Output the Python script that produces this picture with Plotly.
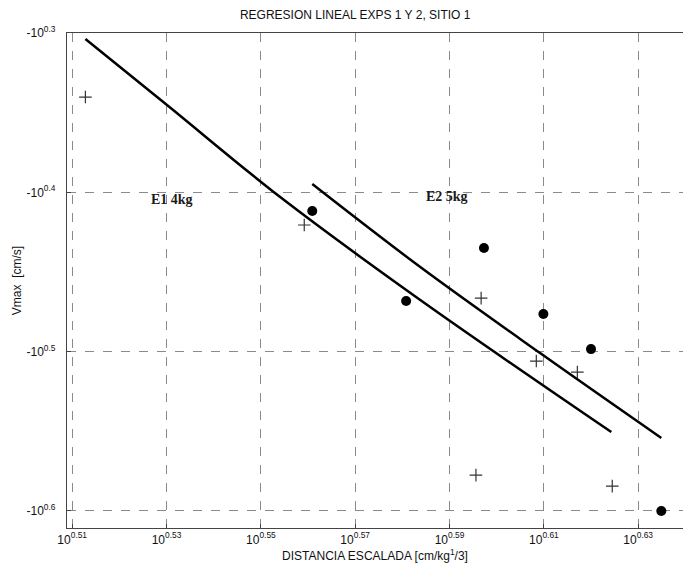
import numpy as np
import plotly.graph_objects as go

# values read as base-10 exponents (x: scaled distance, y: |Vmax|, Vmax is negative)
e1_line_x = [0.5128, 0.5301, 0.5541, 0.5838, 0.6243]
e1_line_y = [0.3038, 0.3452, 0.4030, 0.4676, 0.5505]
e2_line_x = [0.5609, 0.5838, 0.6092, 0.6349]
e2_line_y = [0.3948, 0.4469, 0.5009, 0.5542]
circ_x = [0.5609, 0.5973, 0.5808, 0.6099, 0.6200, 0.6349]
circ_y = [0.4117, 0.4350, 0.4682, 0.4764, 0.4984, 0.6000]
plus_x = [0.5128, 0.5592, 0.5967, 0.6084, 0.6171, 0.5956, 0.6245]
plus_y = [0.3402, 0.4205, 0.4664, 0.5059, 0.5128, 0.5775, 0.5844]
x_ticks = [0.51, 0.53, 0.55, 0.57, 0.59, 0.61, 0.63]
y_ticks = [0.3, 0.4, 0.5, 0.6]
labels = ["E1 4kg", "E2 5kg"]
label_x = [0.5312, 0.5895]
label_y = [0.4042, 0.4029]

p = lambda a: 10 ** np.array(a)

fig = go.Figure()
fig.add_trace(go.Scatter(x=p(e1_line_x), y=p(e1_line_y), mode="lines",
                         line=dict(color="black", width=2.5, smoothing=1.0),
                         line_shape="spline"))
fig.add_trace(go.Scatter(x=p(e2_line_x), y=p(e2_line_y), mode="lines",
                         line=dict(color="black", width=2.5, smoothing=1.0),
                         line_shape="spline"))
fig.add_trace(go.Scatter(x=p(circ_x), y=p(circ_y), mode="markers",
                         marker=dict(symbol="circle", size=10, color="black")))
fig.add_trace(go.Scatter(x=p(plus_x), y=p(plus_y), mode="markers",
                         marker=dict(symbol="cross-thin", size=9,
                                     line=dict(color="#333", width=1.2))))

for t, lx, ly in zip(labels, label_x, label_y):
    fig.add_annotation(x=lx, y=ly, text=f"<b>{t}</b>", showarrow=False,
                       font=dict(family="Liberation Serif", size=14, color="#1a1a1a"))

fig.update_layout(
    width=683, height=574,
    margin=dict(l=67, r=0, t=33, b=46),
    paper_bgcolor="white", plot_bgcolor="white",
    showlegend=False,
    font=dict(family="Liberation Sans", size=12, color="#111"),
    title=dict(text="REGRESION LINEAL EXPS 1 Y 2, SITIO 1", x=0.52, xanchor="center",
               y=0.975, yanchor="middle", font=dict(size=12, color="#111")),
)
fig.update_xaxes(
    type="log", range=[0.5089, 0.6395],
    tickvals=p(x_ticks), ticktext=[f"10<sup>{v:.2f}</sup>" for v in x_ticks],
    tickfont=dict(size=12),
    showgrid=True, gridcolor="#8a8a8a", griddash="dash", gridwidth=1,
    showline=True, linecolor="#444", linewidth=1.2, mirror=True,
    ticks="inside", ticklen=4, tickcolor="#444",
    zeroline=False,
    title=dict(text="DISTANCIA ESCALADA [cm/kg<sup>1</sup>/3]", standoff=6,
               font=dict(size=12)),
)
fig.update_yaxes(
    type="log", range=[0.6107, 0.3],
    tickvals=p(y_ticks), ticktext=[f"-10<sup>{v:.1f}</sup>" for v in y_ticks],
    tickfont=dict(size=12), ticklabelstandoff=8,
    showgrid=True, gridcolor="#8a8a8a", griddash="dash", gridwidth=1,
    showline=True, linecolor="#444", linewidth=1.2, mirror=False,
    ticks="inside", ticklen=4, tickcolor="#444",
    zeroline=False,
    title=dict(text="Vmax  [cm/s]", standoff=2, font=dict(size=12)),
)

fig.write_html("out.html")
